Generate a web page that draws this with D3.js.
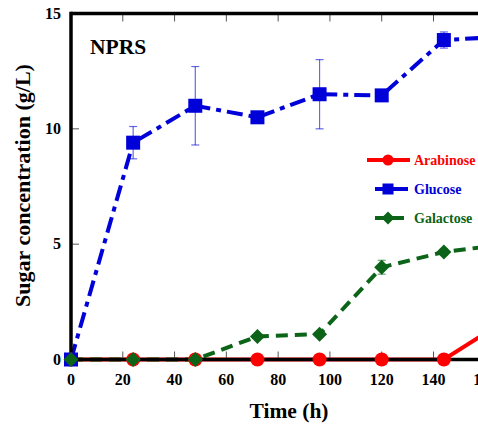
<!DOCTYPE html>
<html>
<head>
<meta charset="utf-8">
<script src="https://cdn.jsdelivr.net/npm/d3@7"></script>
<style>
  body { margin: 0; background: #fff; }
</style>
</head>
<body>
<div id="chart"></div>
<script>
// time points (h)
const times = [0, 24, 48, 72, 96, 120, 144, 168];
// sugar concentrations (g/L)
const arabinose = [0, 0, 0, 0, 0, 0, 0, 1.7];
const glucose = [0, 9.4, 11.0, 10.5, 11.5, 11.45, 13.85, 14.0];
const glucoseErr = [0, 0.7, 1.7, 0, 1.5, 0, 0.35, 0];
const galactose = [0, 0, 0, 1.0, 1.1, 4.0, 4.66, 5.0];
const galactoseErr = [0, 0, 0, 0, 0, 0.3, 0.15, 0];
const xTicks = [0, 20, 40, 60, 80, 100, 120, 140, 160];
const yTicks = [0, 5, 10, 15];

const width = 478, height = 426;
const serif = "'Liberation Serif', 'Times New Roman', Times, 'DejaVu Serif', serif";
const svg = d3.select("#chart").append("svg")
  .attr("width", width)
  .attr("height", height)
  .style("font-family", serif)
  .style("font-weight", "bold");

const x = d3.scaleLinear().domain([0, 168]).range([71, 506]);
const y = d3.scaleLinear().domain([0, 15]).range([359.5, 13.5]);

const series = [
  { name: "Arabinose", vals: arabinose, err: null, color: "#ff0000", dash: null, shape: "circle" },
  { name: "Glucose", vals: glucose, err: glucoseErr, color: "#0000d8", dash: "16,6,5,6", shape: "square" },
  { name: "Galactose", vals: galactose, err: galactoseErr, color: "#0b6417", dash: "12,7", shape: "diamond" }
];

const line = d3.line().x(d => x(d[0])).y(d => y(d[1]));

// series lines
series.forEach(s => {
  svg.append("path")
    .datum(times.map((t, i) => [t, s.vals[i]]))
    .attr("fill", "none")
    .attr("stroke", s.color)
    .attr("stroke-width", 4)
    .attr("stroke-dasharray", s.dash)
    .attr("d", line);
});

// ticks (inward, thin)
const tickG = svg.append("g").attr("stroke", "#555").attr("stroke-width", 1);
xTicks.forEach(t => {
  tickG.append("line").attr("x1", x(t)).attr("x2", x(t)).attr("y1", y(0)).attr("y2", y(0) - 8);
  tickG.append("line").attr("x1", x(t)).attr("x2", x(t)).attr("y1", y(15)).attr("y2", y(15) + 8);
});
yTicks.forEach(t => {
  tickG.append("line").attr("x1", x(0)).attr("x2", x(0) + 8).attr("y1", y(t)).attr("y2", y(t));
});

// frame
svg.append("line").attr("x1", x(0)).attr("x2", x(168)).attr("y1", y(0)).attr("y2", y(0))
  .attr("stroke", "#000").attr("stroke-width", 3.5);
svg.append("line").attr("x1", x(0)).attr("x2", x(168)).attr("y1", y(15)).attr("y2", y(15))
  .attr("stroke", "#000").attr("stroke-width", 3.5);
svg.append("line").attr("x1", x(0)).attr("x2", x(0)).attr("y1", y(15) - 1.75).attr("y2", y(0) + 1.75)
  .attr("stroke", "#000").attr("stroke-width", 3.5);

// tick labels
svg.append("g").selectAll("text").data(xTicks).join("text")
  .attr("x", d => x(d)).attr("y", 385)
  .attr("text-anchor", "middle").attr("font-size", 16)
  .text(d => d);
svg.append("g").selectAll("text").data(yTicks).join("text")
  .attr("x", 61).attr("y", d => y(d) + 5)
  .attr("text-anchor", "end").attr("font-size", 16)
  .text(d => d);

// error bars
series.filter(s => s.err).forEach(s => {
  const g = svg.append("g").attr("stroke", s.color).attr("stroke-opacity", 0.6).attr("stroke-width", 1.2);
  times.forEach((t, i) => {
    const e = s.err[i];
    if (!e) return;
    g.append("line").attr("x1", x(t)).attr("x2", x(t)).attr("y1", y(s.vals[i] - e)).attr("y2", y(s.vals[i] + e));
    g.append("line").attr("x1", x(t) - 4).attr("x2", x(t) + 4).attr("y1", y(s.vals[i] - e)).attr("y2", y(s.vals[i] - e));
    g.append("line").attr("x1", x(t) - 4).attr("x2", x(t) + 4).attr("y1", y(s.vals[i] + e)).attr("y2", y(s.vals[i] + e));
  });
});

// markers
function marker(g, shape, cx, cy, size, color) {
  if (shape === "circle") {
    g.append("circle").attr("cx", cx).attr("cy", cy).attr("r", size / 2).attr("fill", color);
  } else if (shape === "square") {
    g.append("rect").attr("x", cx - size / 2).attr("y", cy - size / 2)
      .attr("width", size).attr("height", size).attr("fill", color);
  } else {
    const h = size / 2;
    g.append("path").attr("d", `M${cx},${cy - h}L${cx + h},${cy}L${cx},${cy + h}L${cx - h},${cy}Z`).attr("fill", color);
  }
}
series.forEach(s => {
  const g = svg.append("g");
  times.forEach((t, i) => marker(g, s.shape, x(t), y(s.vals[i]), s.shape === "diamond" ? 15 : 14, s.color));
});

// legend
const legend = svg.append("g");
const legendX = [[367, 410], [375, 408], [375, 404]];
series.forEach((s, i) => {
  const ly = 160 + i * 29;
  legend.append("line").attr("x1", legendX[i][0]).attr("x2", legendX[i][1]).attr("y1", ly).attr("y2", ly)
    .attr("stroke", s.color).attr("stroke-width", 4);
  marker(legend, s.shape, 388, ly, s.shape === "diamond" ? 13 : 11, s.color);
  legend.append("text").attr("x", 414).attr("y", ly + 5)
    .attr("font-size", 14).attr("fill", s.color).text(s.name);
});

// labels
svg.append("text").attr("x", 90).attr("y", 54).attr("font-size", 21.5).text("NPRS");
svg.append("text").attr("x", 289).attr("y", 418).attr("text-anchor", "middle")
  .attr("font-size", 21.5).text("Time (h)");
svg.append("text").attr("transform", "translate(30,185.5) rotate(-90)")
  .attr("text-anchor", "middle").attr("font-size", 22).text("Sugar concentration (g/L)");
</script>
</body>
</html>
